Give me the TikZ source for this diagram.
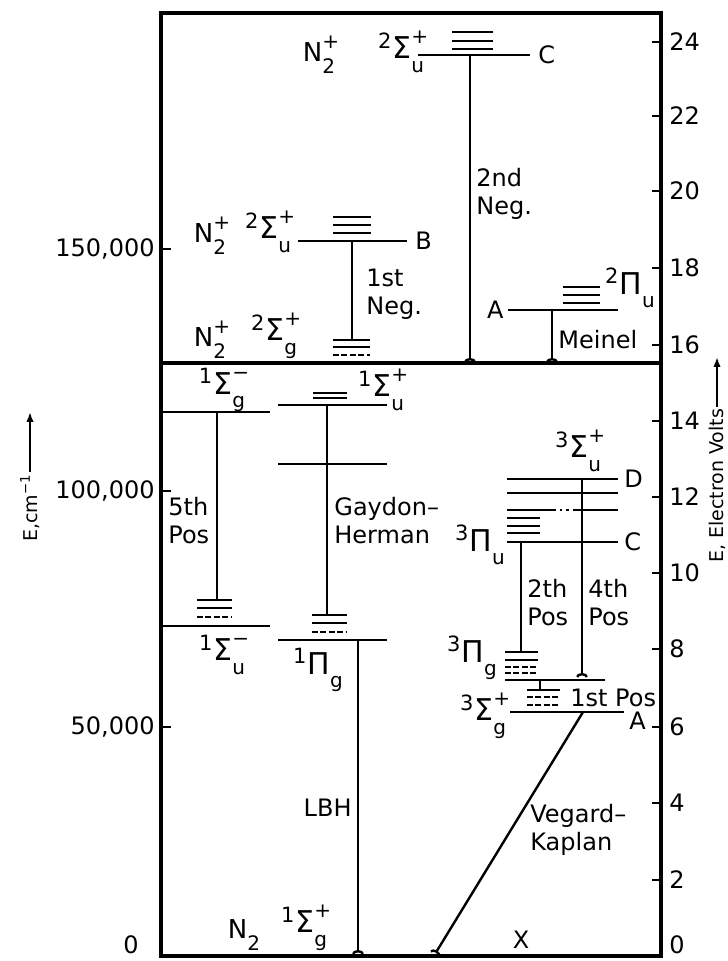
\documentclass[tikz,border=0pt]{standalone}
\usepackage{fontspec}
\setmainfont{DejaVu Sans}
\usetikzlibrary{arrows.meta,positioning}
\newcommand{\subsup}[2]{\makebox[0pt][l]{\raisebox{0.5em}{\fontsize{10}{10}\selectfont #2}}\raisebox{-0.45em}{\fontsize{10}{10}\selectfont #1}}
\newcommand{\trm}[4]{\textsuperscript{#1}#2\subsup{#3}{#4}}
\newcommand{\ion}[1]{N\subsup{2}{#1}}

\begin{document}
\begin{tikzpicture}[x=0.5pt, y=-0.5pt, every node/.style={inner sep=1pt}, txt/.style={font=\fontsize{12}{14}\selectfont, align=left}, term/.style={font=\fontsize{15}{17}\selectfont, inner sep=0pt}, ionlab/.style={font=\fontsize{13}{15}\selectfont, inner sep=0pt}, ttl/.style={font=\fontsize{9.5}{11}\selectfont, rotate=90}, frm/.style={line width=1.7pt}, lvl/.style={line width=1.3pt}, vib/.style={line width=0.9pt}, vibd/.style={vib, dash pattern=on 3pt off 1.2pt}, band/.style={line width=1.2pt, -{Arc Barb[reversed,length=2pt,width=6pt]}}]
\useasboundingbox (0,0) rectangle (727,961);
% frame and axes
\draw[frm] (161,13) rectangle (661,956);
\draw[frm] (161,363) -- (661,363);
\foreach \y in {249,491,727} \draw[lvl] (161,\y) -- (171,\y);
\node[txt, anchor=east] (cm150) at (157,249) {150,000};
\node[txt, anchor=east] (cm100) at (157,491) {100,000};
\node[txt, anchor=east] (cm50) at (157,727) {50,000};
\node[txt, anchor=east] (cm0) at (141,945) {0};
\foreach \v/\y in {24/42, 22/116, 20/191, 18/268, 16/345, 14/421, 12/497, 10/573, 8/649, 6/727, 4/803, 2/880} {\draw[lvl] (652,\y) -- (661,\y); \node[txt, anchor=west] (ev\v) at (667,\y) {\v};}
\node[txt, anchor=west] (ev0) at (667,945) {0};
\node[ttl] (ecm) at (30,508) {E,cm\textsuperscript{−1}};
\coordinate (ecmtip) at (30,412);
\draw[lvl, -{Latex[length=5pt]}] (ecm.east) -- (ecmtip);
\node[ttl] (eev) at (717,486) {E, Electron Volts};
\coordinate (eevtip) at (717,357);
\draw[lvl, -{Latex[length=5pt]}] (eev.east) -- (eevtip);
% ion states
\node[ionlab] (ionC) at (319,55) {\ion{+}};
\node[term] (trmC) at (401,52) {\trm{2}{Σ}{u}{+}};
\draw[lvl] (418,55) -- (530,55) coordinate (Cend);
\foreach \y in {32,41,49} \draw[vib] (452,\y) -- (493,\y);
\node[txt, right=3pt of Cend] (labC) {C};
\coordinate (neg2a) at (470,55); \coordinate (neg2b) at (470,362);
\draw[band] (neg2a) -- (neg2b);
\node[txt, anchor=west] (neg2) at (474,194) {2nd\\Neg.};
\node[ionlab] (ionB) at (210,236) {\ion{+}};
\node[term] (trmB) at (268,232) {\trm{2}{Σ}{u}{+}};
\draw[lvl] (298,241) -- (407,241) coordinate (Bend);
\foreach \y in {217,225,233} \draw[vib] (333,\y) -- (371,\y);
\node[txt, right=3pt of Bend] (labB) {B};
\node[ionlab] (ionX) at (210,340) {\ion{+}};
\node[term] (trmX) at (274,336) {\trm{2}{Σ}{g}{+}};
\foreach \y in {340,347} \draw[vib] (333,\y) -- (370,\y);
\draw[vibd] (333,355) -- (370,355);
\coordinate (neg1a) at (352,241); \coordinate (neg1b) at (352,340);
\draw[lvl] (neg1a) -- (neg1b);
\node[txt, anchor=west] (neg1) at (364,294) {1st\\Neg.};
\draw[lvl] (508,310) coordinate (Astart) -- (618,310);
\foreach \y in {287,295,303} \draw[vib] (563,\y) -- (600,\y);
\node[txt, left=1pt of Astart] (labA) {A};
\node[term] (trmA) at (630,288) {\trm{2}{Π}{u}{}};
\coordinate (meia) at (552,310); \coordinate (meib) at (552,362);
\draw[band] (meia) -- (meib);
\node[txt, anchor=west] (mei) at (556,340) {Meinel};
% singlet states
\node[term] (trmSgm) at (222,390) {\trm{1}{Σ}{g}{−}};
\draw[lvl] (161,412) -- (270,412);
\node[term] (trmSup) at (381,390) {\trm{1}{Σ}{u}{+}};
\draw[lvl] (278,405) -- (387,405);
\foreach \y in {393,398} \draw[vib] (313,\y) -- (347,\y);
\draw[lvl] (278,464) -- (387,464);
\foreach \y in {600,608} \draw[vib] (197,\y) -- (232,\y);
\draw[vibd] (197,617) -- (232,617);
\draw[lvl] (161,626) -- (270,626);
\node[term] (trmSum) at (222,655) {\trm{1}{Σ}{u}{−}};
\foreach \y in {615,623} \draw[vib] (312,\y) -- (347,\y);
\draw[vibd] (312,632) -- (347,632);
\draw[lvl] (278,640) -- (387,640);
\node[term] (trmPg) at (318,670) {\trm{1}{Π}{g}{}};
\coordinate (pos5a) at (217,412); \coordinate (pos5b) at (217,600);
\draw[lvl] (pos5a) -- (pos5b);
\node[txt, anchor=west] (pos5) at (166,521) {5th\\Pos};
\coordinate (gha) at (327,405); \coordinate (ghb) at (327,615);
\draw[lvl] (gha) -- (ghb);
\node[txt, anchor=west] (gh) at (332,521) {Gaydon–\\Herman};
\coordinate (lbha) at (358,640); \coordinate (lbhb) at (358,954);
\draw[band] (lbha) -- (lbhb);
\node[txt, anchor=east] (lbh) at (354,808) {LBH};
\node[ionlab] (gnd) at (244,935) {\ion{}};
\node[term] (trmX0) at (304,928) {\trm{1}{Σ}{g}{+}};
\node[txt] (labX) at (521,940) {X};
% triplet states
\draw[lvl] (507,479) -- (618,479) coordinate (Dend);
\node[txt, right=2pt of Dend] (labD) {D};
\node[term] (trmD) at (578,451) {\trm{3}{Σ}{u}{+}};
\draw[lvl] (507,493) -- (618,493);
\draw[lvl] (507,510) -- (553,510); \draw[lvl, dotted] (553,510) -- (575,510); \draw[lvl] (575,510) -- (618,510);
\foreach \y in {518,526,533} \draw[vib] (507,\y) -- (540,\y);
\draw[lvl] (507,542) -- (618,542) coordinate (Ctend);
\node[txt, right=2pt of Ctend] (labCt) {C};
\node[term] (trmPu) at (480,545) {\trm{3}{Π}{u}{}};
\foreach \y in {652,660} \draw[vib] (505,\y) -- (538,\y);
\foreach \y in {667,673} \draw[vibd] (505,\y) -- (538,\y);
\draw[lvl] (505,680) -- (605,680);
\node[term] (trmPgt) at (472,658) {\trm{3}{Π}{g}{}};
\draw[vib] (527,690) -- (560,690);
\foreach \y in {697,705} \draw[vibd] (527,\y) -- (560,\y);
\draw[lvl] (510,712) -- (624,712) coordinate (Atend);
\node[txt, anchor=west] (labAt) at (627,721) {A};
\node[term] (trmSg) at (483,716) {\trm{3}{Σ}{g}{+}};
\coordinate (pos2a) at (521,542); \coordinate (pos2b) at (521,652);
\draw[lvl] (pos2a) -- (pos2b);
\node[txt, anchor=west] (pos2) at (525,603) {2th\\Pos};
\coordinate (pos4a) at (582,479); \coordinate (pos4b) at (582,677);
\draw[band] (pos4a) -- (pos4b);
\node[txt, anchor=west] (pos4) at (586,603) {4th\\Pos};
\coordinate (pos1a) at (540,680); \coordinate (pos1b) at (540,690);
\draw[vib] (pos1a) -- (pos1b);
\node[txt, anchor=west] (pos1) at (568,698) {1st Pos};
\coordinate (vka) at (583,712); \coordinate (vkb) at (435,954);
\draw[band] (vka) -- (vkb);
\node[txt, anchor=west] (vk) at (528,830) {Vegard–\\Kaplan};
\end{tikzpicture}
\end{document}
